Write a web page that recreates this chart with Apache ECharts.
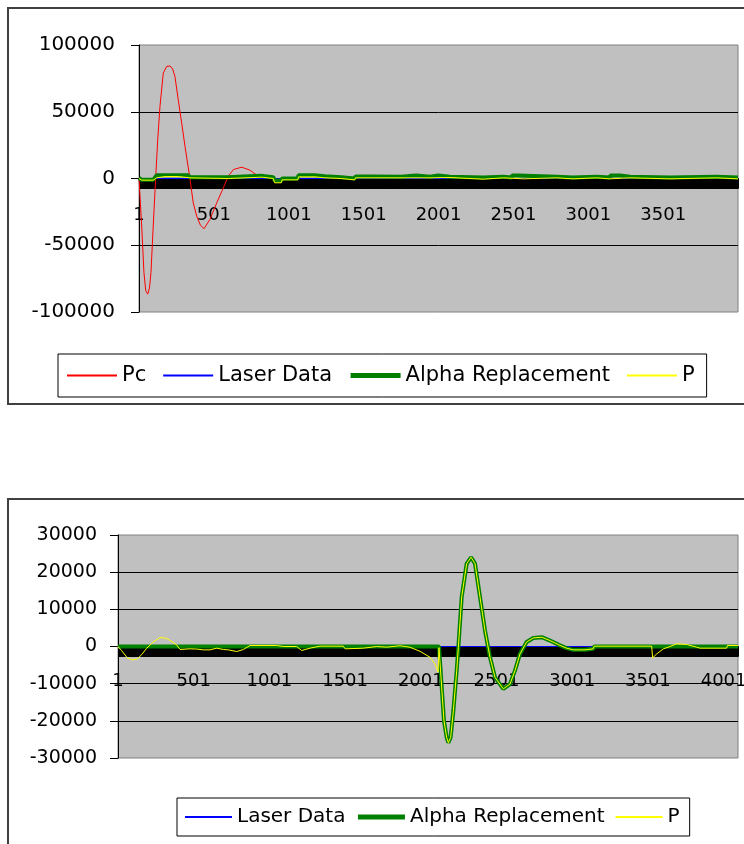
<!DOCTYPE html>
<html>
<head>
<meta charset="utf-8">
<script src="https://cdn.jsdelivr.net/npm/echarts@6/dist/echarts.min.js"></script>
<style>
html,body{margin:0;padding:0;background:#fff;}
#chart{width:744px;height:844px;}
</style>
</head>
<body>
<div id="chart"></div>
<script>
// ---------- Chart 1 (top) ----------
const N1 = 4000;                       // number of samples (categories)
const categories1 = Array.from({length: N1}, (_, i) => String(i + 1));
const yMin1 = -100000, yMax1 = 100000, yStep1 = 50000;
const legend1 = ['Pc', 'Laser Data', 'Alpha Replacement', 'P'];

// [sample index, value]
const pc1 = [
  [0, 0], [18, -35600], [33, -70400], [45, -84000], [58, -86600], [70, -82000], [80, -70400],
  [95, -35600], [111, 0], [125, 29100], [140, 54000], [162, 78900], [185, 84000], [207, 84300],
  [225, 82000], [240, 76400], [262, 59000], [285, 41500], [307, 24100], [340, 0], [362, -18200],
  [385, -28100], [410, -35000], [434, -37600], [474, -30600], [519, -18200], [563, -7000],
  [596, 1700], [630, 6700], [686, 8500], [741, 6200], [796, 1700], [830, 600], [870, 0], [3999, 0]
];
const laser1 = [[0, 0], [3999, 0]];
const alpha1 = [
  [0, 500], [12, 500], [18, -1000], [95, -1000], [118, 2500], [327, 2500], [340, 1000], [590, 1000],
  [600, 2000], [813, 2000], [820, 1000], [897, 1000], [905, -1500], [950, -1500], [955, 0], [1060, 0],
  [1065, 2500], [1170, 2500], [1175, 1750], [1240, 1750], [1245, 1000], [1350, 1000], [1355, 0],
  [1440, 0], [1445, 1500], [1550, 1500], [1555, 1250], [1750, 1250], [1755, 2250], [1850, 2250],
  [1855, 1250], [1943, 1250], [1945, 2250], [1998, 2250], [2000, 1250], [2076, 1250], [2080, 750],
  [2298, 750], [2300, 1250], [2432, 1250], [2435, 750], [2488, 750], [2490, 2250], [2532, 2250],
  [2535, 1250], [2788, 1250], [2790, 750], [2899, 750], [2900, 1250], [3055, 1250], [3057, 750],
  [3144, 750], [3146, 2250], [3211, 2250], [3213, 1250], [3278, 1250], [3280, 750], [3545, 750],
  [3547, 1250], [3856, 1250], [3858, 750], [3999, 750]
];
const p1 = [
  [0, 0], [12, 0], [18, -1250], [95, -1250], [118, 500], [174, 1500], [262, 1500], [265, 500],
  [340, 500], [345, 0], [596, 0], [600, 1000], [819, 1000], [822, 0], [897, 0], [905, -3200],
  [950, -3200], [955, -1000], [1060, -1000], [1065, 1250], [1175, 1250], [1178, 500], [1242, 500],
  [1245, 0], [1350, 0], [1355, -1000], [1440, -1000], [1445, 500], [1943, 500], [1945, 750],
  [2076, 750], [2078, -500], [2298, -500], [2300, 500], [2432, 500], [2434, -250], [2565, -250],
  [2567, 500], [2788, 500], [2790, -250], [2899, -250], [2901, 500], [3055, 500], [3057, -250],
  [3144, -250], [3146, 500], [3278, 500], [3280, -250], [3545, -250], [3547, 500], [3856, 500],
  [3858, -250], [3999, -250]
];

// ---------- Chart 2 (bottom) ----------
const N2 = 4096;
const categories2 = Array.from({length: N2}, (_, i) => String(i + 1));
const yMin2 = -30000, yMax2 = 30000, yStep2 = 10000;
const legend2 = ['Laser Data', 'Alpha Replacement', 'P'];

const laser2 = [[0, 0], [4095, 0]];
const p2 = [
  [0, 0], [24, -1100], [60, -3000], [97, -3600], [130, -3300], [160, -2000], [189, -500], [233, 1200],
  [277, 2400], [320, 2200], [360, 1200], [387, 450], [410, -800], [476, -630], [520, -700], [564, -900],
  [608, -900], [652, -450], [696, -810], [729, -900], [784, -1350], [828, -810], [872, 270], [1048, 270],
  [1060, 540], [1092, 0], [1180, 0], [1213, -1080], [1268, -450], [1334, 90], [1488, 90], [1500, -630],
  [1620, -450], [1709, 0], [1775, -180], [1863, 200], [1929, -200], [1995, -1300], [2061, -2900],
  [2094, -4700], [2114, -6900], [2120, -300], [2126, -300], [2153, -20000], [2171, -24500],
  [2182, -25900], [2197, -24500], [2215, -17300], [2237, -6500], [2248, -200], [2270, 13300],
  [2303, 22300], [2332, 24000], [2358, 22300], [2391, 13300], [2424, 4300], [2457, -2900],
  [2490, -8300], [2545, -11400], [2589, -10100], [2622, -6500], [2655, -2000], [2699, 1200],
  [2743, 2300], [2799, 2500], [2853, 1600], [2919, 300], [2963, -450], [3007, -900], [3085, -900],
  [3090, -630], [3139, -630], [3145, 90], [3525, 90], [3531, -3060], [3558, -2000], [3602, -630],
  [3646, 0], [3690, 720], [3756, 540], [3822, -180], [3844, -450], [4020, -450], [4025, 270], [4095, 270]
];
const alpha2 = [
  [0, 0], [2120, 0], [2126, -300], [2153, -20000], [2171, -24500],
  [2182, -25900], [2197, -24500], [2215, -17300], [2237, -6500], [2248, -200], [2270, 13300],
  [2303, 22300], [2332, 24000], [2358, 22300], [2391, 13300], [2424, 4300], [2457, -2900],
  [2490, -8300], [2545, -11400], [2589, -10100], [2622, -6500], [2655, -2000], [2699, 1200],
  [2743, 2300], [2799, 2500], [2853, 1600], [2919, 300], [2963, -450], [3007, -900], [3085, -900],
  [3090, -630], [3139, -630], [3145, 0], [4095, 0]
];

// ---------- styling ----------
const FONT = 'DejaVu Sans';
const COLORS = {'Pc': '#ff0000', 'Laser Data': '#0000ff', 'Alpha Replacement': '#008000', 'P': '#ffff00'};
const WIDTHS = {'Pc': 1, 'Laser Data': 1, 'Alpha Replacement': 4, 'P': 1};
const LEGEND_WIDTHS = {'Pc': 2, 'Laser Data': 2, 'Alpha Replacement': 5, 'P': 2};

// the category axis sits on the zero line: it is moved up from the grid bottom by `offset`
function xAxis(gridIndex, cats, labelSize, margin, offset) {
  return {
    type: 'category', gridIndex, data: cats, boundaryGap: false, position: 'bottom', offset,
    axisLine: {show: true, onZero: false, lineStyle: {color: '#000', width: 1}},
    axisTick: {show: true, interval: 0, length: 10, inside: false, lineStyle: {color: '#000', width: 1}},
    axisLabel: {interval: 499, margin, color: '#000', fontSize: labelSize, fontFamily: FONT,
                hideOverlap: false},
    splitLine: {show: false}
  };
}
function yAxis(gridIndex, min, max, interval, labelSize, margin) {
  return {
    type: 'value', gridIndex, min, max, interval,
    axisLine: {show: true, lineStyle: {color: '#000', width: 1}},
    axisTick: {show: true, length: 8, lineStyle: {color: '#000', width: 1}},
    axisLabel: {formatter: v => String(v), margin, color: '#000', fontSize: labelSize, fontFamily: FONT},
    splitLine: {show: true, showMinLine: false, showMaxLine: false, lineStyle: {color: '#000', width: 1}}
  };
}
function series(name, data, idx) {
  return {
    name, type: 'line', data, xAxisIndex: idx, yAxisIndex: idx,
    symbol: 'none', showSymbol: false, animation: false, silent: true,
    lineStyle: {color: COLORS[name], width: WIDTHS[name]},
    itemStyle: {color: COLORS[name]}
  };
}
function legendData(names) {
  return names.map(n => ({
    name: n,
    lineStyle: {width: LEGEND_WIDTHS[n], color: COLORS[n]},
    itemStyle: {color: 'rgba(0,0,0,0)', borderWidth: 0, opacity: 0}
  }));
}

const chart = echarts.init(document.getElementById('chart'), null, {renderer: 'canvas'});
chart.setOption({
  backgroundColor: '#fff',
  animation: false,
  graphic: [
    {type: 'rect', z: -10, shape: {x: 8, y: 8, width: 760, height: 396},
     style: {fill: 'none', stroke: '#404040', lineWidth: 2}},
    {type: 'rect', z: -10, shape: {x: 8, y: 499, width: 760, height: 400},
     style: {fill: 'none', stroke: '#404040', lineWidth: 2}}
  ],
  grid: [
    {left: 139, top: 45, width: 599, height: 267, show: true, backgroundColor: '#c0c0c0',
     borderColor: '#808080', borderWidth: 1, containLabel: false, outerBoundsMode: 'none'},
    {left: 118, top: 535, width: 620, height: 223, show: true, backgroundColor: '#c0c0c0',
     borderColor: '#808080', borderWidth: 1, containLabel: false, outerBoundsMode: 'none'}
  ],
  xAxis: [xAxis(0, categories1, 18, 28, -133.5), xAxis(1, categories2, 18, 26, -111.5)],
  yAxis: [yAxis(0, yMin1, yMax1, yStep1, 20, 24), yAxis(1, yMin2, yMax2, yStep2, 19, 21)],
  legend: [
    {data: legendData(legend1), left: 58, top: 354, orient: 'horizontal',
     itemWidth: 50, itemHeight: 14, itemGap: 16, padding: [11, 12, 11, 8],
     borderColor: '#000', borderWidth: 1, backgroundColor: '#fff', selectedMode: false,
     textStyle: {color: '#000', fontSize: 21, fontFamily: FONT}},
    {data: legendData(legend2), left: 177, top: 798, orient: 'horizontal',
     itemWidth: 47, itemHeight: 14, itemGap: 10, padding: [9, 10, 9, 7],
     borderColor: '#000', borderWidth: 1, backgroundColor: '#fff', selectedMode: false,
     textStyle: {color: '#000', fontSize: 20, fontFamily: FONT}}
  ],
  series: [
    series('Pc', pc1, 0),
    series('Laser Data', laser1, 0),
    series('Alpha Replacement', alpha1, 0),
    series('P', p1, 0),
    series('Laser Data', laser2, 1),
    series('Alpha Replacement', alpha2, 1),
    series('P', p2, 1)
  ]
});
</script>
</body>
</html>
